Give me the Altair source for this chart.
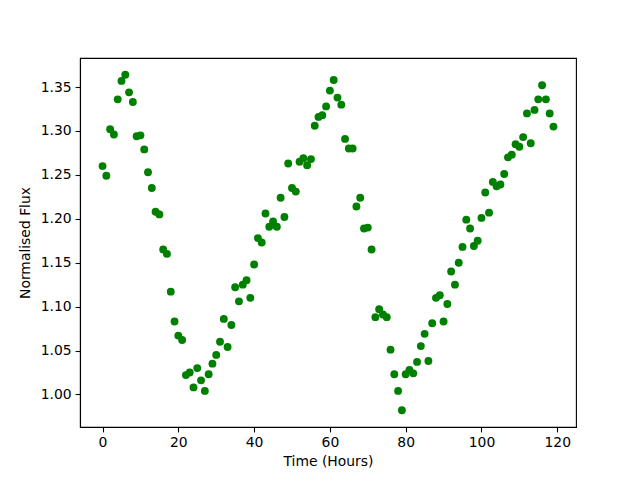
import altair as alt
import pandas as pd

hours = list(range(120))
flux = [
    1.260, 1.249, 1.302, 1.296, 1.336, 1.357, 1.364, 1.344, 1.333, 1.294,
    1.295, 1.279, 1.253, 1.235, 1.208, 1.205, 1.165, 1.160, 1.117, 1.083,
    1.067, 1.062, 1.022, 1.025, 1.008, 1.030, 1.016, 1.004, 1.023, 1.035,
    1.045, 1.060, 1.086, 1.054, 1.079, 1.122, 1.106, 1.125, 1.130, 1.110,
    1.148, 1.178, 1.173, 1.206, 1.191, 1.197, 1.191, 1.224, 1.202, 1.263,
    1.235, 1.231, 1.265, 1.269, 1.261, 1.268, 1.306, 1.316, 1.318, 1.328,
    1.346, 1.358, 1.338, 1.330, 1.291, 1.280, 1.280, 1.214, 1.224, 1.189,
    1.190, 1.165, 1.088, 1.097, 1.091, 1.088, 1.051, 1.023, 1.004, 0.982,
    1.023, 1.028, 1.024, 1.037, 1.055, 1.069, 1.038, 1.081, 1.110, 1.113,
    1.083, 1.103, 1.140, 1.125, 1.150, 1.168, 1.199, 1.189, 1.169, 1.175,
    1.201, 1.230, 1.207, 1.242, 1.237, 1.239, 1.251, 1.270, 1.273, 1.285,
    1.282, 1.293, 1.320, 1.286, 1.324, 1.336, 1.352, 1.336, 1.320, 1.305,
]
x_ticks = [0, 20, 40, 60, 80, 100, 120]
y_ticks = [1.00, 1.05, 1.10, 1.15, 1.20, 1.25, 1.30, 1.35]

df = pd.DataFrame({"t": hours, "flux": flux})

xmin, xmax = min(hours), max(hours)
ymin, ymax = min(flux), max(flux)
xm = 0.05 * (xmax - xmin)
ym = 0.05 * (ymax - ymin)

axis_common = dict(
    labelFont="DejaVu Sans", labelFontSize=13.9, labelColor="black",
    titleFont="DejaVu Sans", titleFontSize=13.9, titleFontWeight="normal", titleColor="black",
    tickColor="black", tickWidth=1.1, tickSize=4.9, labelPadding=4,
    domainColor="black", domainWidth=1.1, grid=False,
)

chart = alt.Chart(df).mark_circle(size=62, opacity=1, color="green").encode(
    x=alt.X("t:Q", title="Time (Hours)",
            scale=alt.Scale(domain=[xmin - xm, xmax + xm], nice=False, zero=False),
            axis=alt.Axis(values=x_ticks, format="d", titlePadding=5, **axis_common)),
    y=alt.Y("flux:Q", title="Normalised Flux",
            scale=alt.Scale(domain=[ymin - ym, ymax + ym], nice=False, zero=False),
            axis=alt.Axis(values=y_ticks, format=".2f", titlePadding=8, **axis_common)),
).properties(
    width=496, height=369,
    background="white",
    autosize=alt.AutoSizeParams(type="none"),
    padding={"left": 72, "top": 50, "right": 50, "bottom": 45},
).configure_view(stroke="black", strokeWidth=1.1)

chart.save("out.html", embed_options={"renderer": "svg", "actions": False})
